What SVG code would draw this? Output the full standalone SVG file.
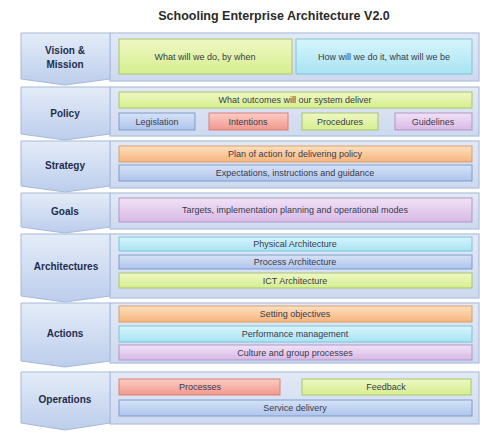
<svg xmlns="http://www.w3.org/2000/svg" width="487" height="439" viewBox="0 0 487 439">
<defs>
<linearGradient id="gChev" x1="0" y1="0" x2="0" y2="1"><stop offset="0" stop-color="#e4ecf8"/><stop offset="1" stop-color="#bccdec"/></linearGradient>
<linearGradient id="gPanel" x1="0" y1="0" x2="0" y2="1"><stop offset="0" stop-color="#e3eaf6"/><stop offset="1" stop-color="#cdd9ef"/></linearGradient>
<linearGradient id="gGreen" x1="0" y1="0" x2="0" y2="1"><stop offset="0" stop-color="#eef8c4"/><stop offset="1" stop-color="#d6ee8e"/></linearGradient>
<linearGradient id="gCyan" x1="0" y1="0" x2="0" y2="1"><stop offset="0" stop-color="#d6f5fc"/><stop offset="1" stop-color="#a9e3f3"/></linearGradient>
<linearGradient id="gBlue" x1="0" y1="0" x2="0" y2="1"><stop offset="0" stop-color="#d6e3f7"/><stop offset="1" stop-color="#aec4ec"/></linearGradient>
<linearGradient id="gRed" x1="0" y1="0" x2="0" y2="1"><stop offset="0" stop-color="#fbcdc6"/><stop offset="1" stop-color="#f2978c"/></linearGradient>
<linearGradient id="gPurple" x1="0" y1="0" x2="0" y2="1"><stop offset="0" stop-color="#f1e2f6"/><stop offset="1" stop-color="#d8b9e6"/></linearGradient>
<linearGradient id="gOrange" x1="0" y1="0" x2="0" y2="1"><stop offset="0" stop-color="#fde0c0"/><stop offset="1" stop-color="#f6b47c"/></linearGradient>
</defs>
<style>
.chev{fill:url(#gChev);stroke:#a6b9da;stroke-width:1}
.panel{fill:url(#gPanel);stroke:#aebfdc;stroke-width:1.2}
.bar{stroke-width:1}
.green{fill:url(#gGreen);stroke:#a9c46c}
.cyan{fill:url(#gCyan);stroke:#7fc3d8}
.blue{fill:url(#gBlue);stroke:#7f9bcb}
.red{fill:url(#gRed);stroke:#d98078}
.purple{fill:url(#gPurple);stroke:#b196c8}
.orange{fill:url(#gOrange);stroke:#d9a06a}
.lbl{font-family:"Liberation Sans",Arial,sans-serif;font-weight:bold;font-size:10px;fill:#1f2d4d;text-anchor:middle}
.txt{font-family:"Liberation Sans",Arial,sans-serif;font-size:9px;fill:#3a3a4a;text-anchor:middle}
.title{font-family:"Liberation Sans",Arial,sans-serif;font-weight:bold;font-size:12.5px;fill:#2a2a2a;text-anchor:middle}
</style>
<rect x="0" y="0" width="487" height="439" fill="#ffffff"/>
<text class="title" x="274" y="20">Schooling Enterprise Architecture V2.0</text>

<g id="vision">
<rect class="panel" x="110" y="33" width="369" height="48"/>
<path class="chev" d="M21,33 L110,33 L110,79 L65,85 L21,79 Z"/>
<text class="lbl" x="65" y="54">Vision &amp;</text>
<text class="lbl" x="65" y="68">Mission</text>
<rect class="bar green" x="119" y="39" width="173" height="35"/>
<text class="txt" x="205" y="60">What will we do, by when</text>
<rect class="bar cyan" x="296" y="39" width="176" height="35"/>
<text class="txt" x="384" y="60">How will we do it, what will we be</text>
</g>

<g id="policy">
<rect class="panel" x="110" y="87" width="369" height="49"/>
<path class="chev" d="M21,87 L110,87 L110,134 L65,140 L21,134 Z"/>
<text class="lbl" x="65" y="117">Policy</text>
<rect class="bar green" x="119" y="92" width="353" height="16"/>
<text class="txt" x="295" y="103">What outcomes will our system deliver</text>
<rect class="bar blue" x="119" y="113" width="76" height="17"/>
<text class="txt" x="157" y="125">Legislation</text>
<rect class="bar red" x="209" y="113" width="79" height="17"/>
<text class="txt" x="248" y="125">Intentions</text>
<rect class="bar green" x="302" y="113" width="76" height="17"/>
<text class="txt" x="340" y="125">Procedures</text>
<rect class="bar purple" x="395" y="113" width="77" height="17"/>
<text class="txt" x="433" y="125">Guidelines</text>
</g>

<g id="strategy">
<rect class="panel" x="110" y="141" width="369" height="47"/>
<path class="chev" d="M21,141 L110,141 L110,186 L65,192 L21,186 Z"/>
<text class="lbl" x="65" y="169">Strategy</text>
<rect class="bar orange" x="119" y="146" width="353" height="16"/>
<text class="txt" x="295" y="157">Plan of action for delivering policy</text>
<rect class="bar blue" x="119" y="165" width="353" height="16"/>
<text class="txt" x="295" y="176">Expectations, instructions and guidance</text>
</g>

<g id="goals">
<rect class="panel" x="110" y="193" width="369" height="36"/>
<path class="chev" d="M21,193 L110,193 L110,227 L65,233 L21,227 Z"/>
<text class="lbl" x="65" y="215">Goals</text>
<rect class="bar purple" x="119" y="198" width="353" height="24"/>
<text class="txt" x="295" y="213">Targets, implementation planning and operational modes</text>
</g>

<g id="architectures">
<rect class="panel" x="110" y="234" width="369" height="64"/>
<path class="chev" d="M21,234 L110,234 L110,296 L65,302 L21,296 Z"/>
<text class="lbl" x="66" y="270">Architectures</text>
<rect class="bar cyan" x="119" y="237" width="353" height="14"/>
<text class="txt" x="295" y="247">Physical Architecture</text>
<rect class="bar blue" x="119" y="255" width="353" height="14"/>
<text class="txt" x="295" y="265">Process Architecture</text>
<rect class="bar green" x="119" y="273" width="353" height="15"/>
<text class="txt" x="295" y="284">ICT Architecture</text>
</g>

<g id="actions">
<rect class="panel" x="110" y="303" width="369" height="60"/>
<path class="chev" d="M21,303 L110,303 L110,361 L65,367 L21,361 Z"/>
<text class="lbl" x="65" y="337">Actions</text>
<rect class="bar orange" x="119" y="306" width="353" height="16"/>
<text class="txt" x="295" y="317">Setting objectives</text>
<rect class="bar cyan" x="119" y="326" width="353" height="16"/>
<text class="txt" x="295" y="337">Performance management</text>
<rect class="bar purple" x="119" y="345" width="353" height="15"/>
<text class="txt" x="295" y="356">Culture and group processes</text>
</g>

<g id="operations">
<rect class="panel" x="110" y="372" width="369" height="52"/>
<path class="chev" d="M21,372 L110,372 L110,423 L65,430 L21,423 Z"/>
<text class="lbl" x="65" y="403">Operations</text>
<rect class="bar red" x="119" y="379" width="161" height="16"/>
<text class="txt" x="200" y="390">Processes</text>
<rect class="bar green" x="302" y="379" width="169" height="16"/>
<text class="txt" x="386" y="390">Feedback</text>
<rect class="bar blue" x="119" y="400" width="353" height="16"/>
<text class="txt" x="295" y="411">Service delivery</text>
</g>

<g id="connectors"></g>
</svg>
